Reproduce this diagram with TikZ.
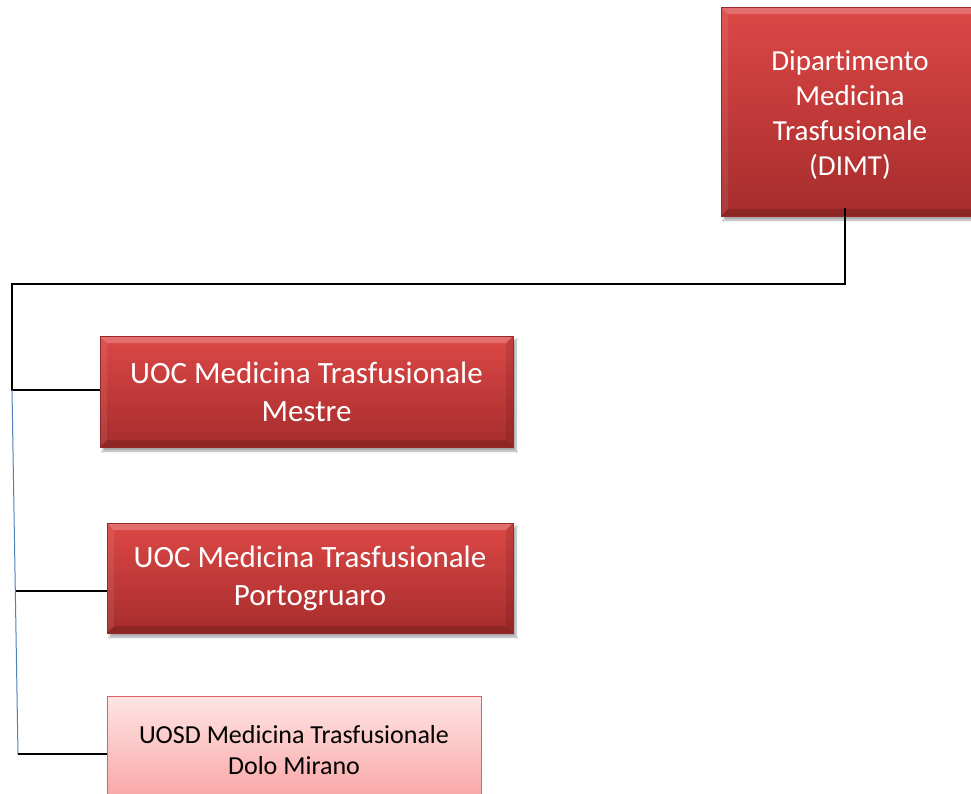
\documentclass[tikz,border=0pt]{standalone}
\usepackage{fontspec}
\setmainfont{Carlito}[Ligatures=NoCommon]
\usepackage{tikz}
\usetikzlibrary{shadows.blur}
\definecolor{RossoAlto}{RGB}{220,72,70}
\definecolor{RossoBasso}{RGB}{166,44,44}
\definecolor{RossoBordo}{RGB}{150,40,40}
\definecolor{RosaAlto}{RGB}{255,229,229}
\definecolor{RosaBasso}{RGB}{249,162,162}
\definecolor{RosaBordo}{RGB}{222,96,96}
\definecolor{BluLinea}{RGB}{79,129,189}

\tikzset{
  smusso/.style={path picture={
    \fill[white,opacity=.22] (path picture bounding box.north west) -- (path picture bounding box.north east)
      -- ([xshift=-7pt,yshift=-7pt]path picture bounding box.north east) -- ([xshift=7pt,yshift=-7pt]path picture bounding box.north west) -- cycle;
    \fill[black,opacity=.15] (path picture bounding box.south west) -- (path picture bounding box.south east)
      -- ([xshift=-7pt,yshift=7pt]path picture bounding box.south east) -- ([xshift=7pt,yshift=7pt]path picture bounding box.south west) -- cycle;
    \fill[white,opacity=.08] (path picture bounding box.north west) -- ([xshift=7pt,yshift=-7pt]path picture bounding box.north west)
      -- ([xshift=7pt,yshift=7pt]path picture bounding box.south west) -- (path picture bounding box.south west) -- cycle;
    \fill[black,opacity=.1] (path picture bounding box.north east) -- ([xshift=-7pt,yshift=-7pt]path picture bounding box.north east)
      -- ([xshift=-7pt,yshift=7pt]path picture bounding box.south east) -- (path picture bounding box.south east) -- cycle;}},
  unita/.style={draw=RossoBordo,line width=0.8pt,top color=RossoAlto,bottom color=RossoBasso,
    text=white,align=center,inner sep=0pt,smusso,
    blur shadow={shadow xshift=3pt,shadow yshift=-4pt,shadow blur steps=6,shadow opacity=35}},
  unitachiara/.style={draw=RosaBordo,line width=1pt,top color=RosaAlto,bottom color=RosaBasso,
    text=black,align=center,inner sep=0pt},
  ramo/.style={line width=1.6pt,black}
}

\begin{document}
\begin{tikzpicture}[x=1pt,y=-1pt]
  \useasboundingbox[fill=white] (0,0) rectangle (971,793);
  % caselle
  \node[unita,minimum width=258pt,minimum height=209pt,font=\fontsize{29}{35}\selectfont] (dimt) at (850,111.5)
    {\rule{0pt}{28pt}Dipartimento\\Medicina\\Trasfusionale\\(DIMT)};
  \node[unita,minimum width=413pt,minimum height=111pt,font=\fontsize{31}{38}\selectfont] (mestre) at (306.5,391.5)
    {UOC Medicina Trasfusionale\\Mestre};
  \node[unita,minimum width=406pt,minimum height=110pt,font=\fontsize{31}{38}\selectfont] (portogruaro) at (310,578)
    {UOC Medicina Trasfusionale\\Portogruaro};
  \node[unitachiara,minimum width=374pt,minimum height=108pt,font=\fontsize{26}{31}\selectfont] (dolo) at (294,750)
    {UOSD Medicina Trasfusionale\\Dolo Mirano};
  % collegamenti
  \coordinate (angolo) at (12,284);
  \coordinate (spinaA) at (12,390);
  \coordinate (spinaB) at (18,754);
  \coordinate (presaP) at (16,591);
  \draw[ramo] ([xshift=-5pt,yshift=8pt]dimt.south) |- (angolo) -- (spinaA) -- (spinaA -| mestre.west);
  \draw[BluLinea,line width=1pt] (spinaA) -- (spinaB);
  \draw[ramo] (presaP) -- (presaP -| portogruaro.west);
  \draw[ramo] (spinaB) -- (spinaB -| dolo.west);
\end{tikzpicture}
\end{document}
